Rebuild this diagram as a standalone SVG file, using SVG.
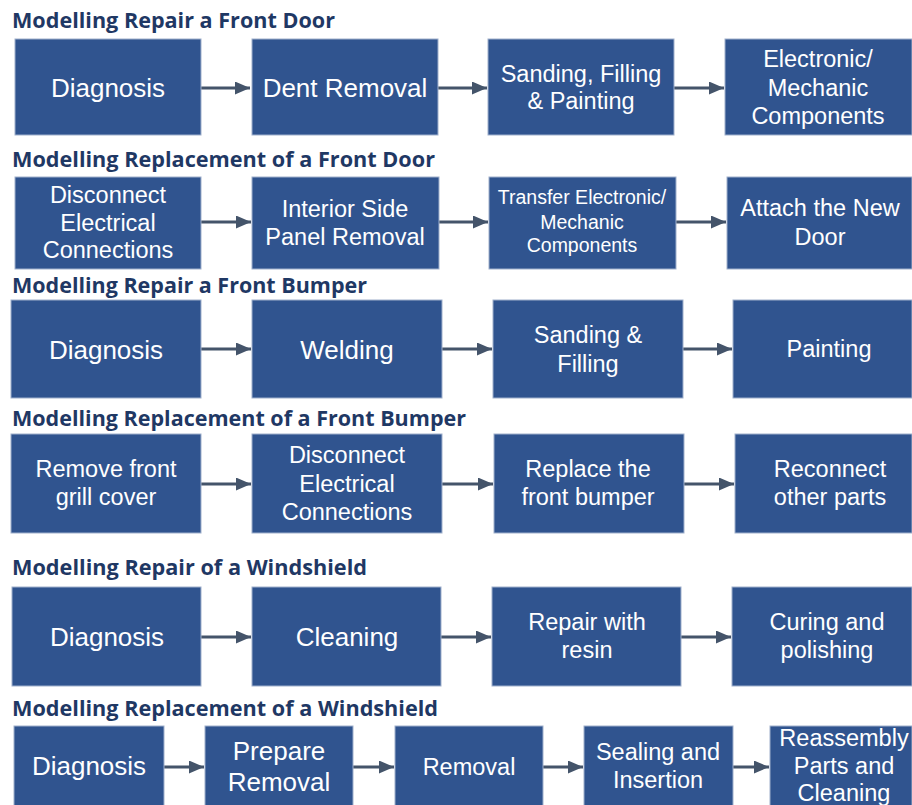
<svg xmlns="http://www.w3.org/2000/svg" width="912" height="805" viewBox="0 0 912 805">
<defs>
<marker id="ah" markerUnits="userSpaceOnUse" markerWidth="15" markerHeight="13" viewBox="0 0 15 13" refX="15" refY="6.5" orient="auto">
<path d="M0,0 L15,6.5 L0,13 z" fill="#44546a"/>
</marker>
<style>
.t{font-family:"Open Sans","Liberation Sans",sans-serif;font-weight:700;font-size:21.5px;fill:#1f3864}
.b{fill:#30548f;stroke:#9fb0cc;stroke-width:1}
.l{font-family:"Liberation Sans",Arial,sans-serif;font-size:26px;fill:#ffffff;text-anchor:middle}
.m{font-size:23.5px}
.s{font-size:19.5px}
.c line{stroke:#44546a;stroke-width:3;marker-end:url(#ah)}
</style>
</defs>
<rect width="912" height="805" fill="#ffffff"/>
<g id="titles">
<text class="t" x="12" y="28" textLength="323" lengthAdjust="spacingAndGlyphs">Modelling Repair a Front Door</text>
<text class="t" x="12" y="167" textLength="423" lengthAdjust="spacingAndGlyphs">Modelling Replacement of a Front Door</text>
<text class="t" x="12" y="293" textLength="355" lengthAdjust="spacingAndGlyphs">Modelling Repair a Front Bumper</text>
<text class="t" x="12" y="426" textLength="454" lengthAdjust="spacingAndGlyphs">Modelling Replacement of a Front Bumper</text>
<text class="t" x="12" y="575" textLength="355" lengthAdjust="spacingAndGlyphs">Modelling Repair of a Windshield</text>
<text class="t" x="12" y="716" textLength="426" lengthAdjust="spacingAndGlyphs">Modelling Replacement of a Windshield</text>
</g>
<g class="c" id="connectors">
<line x1="201" y1="88" x2="250" y2="88"/>
<line x1="438" y1="88" x2="487" y2="88"/>
<line x1="674" y1="88" x2="724" y2="88"/>
<line x1="201" y1="222" x2="251" y2="222"/>
<line x1="439" y1="222" x2="488" y2="222"/>
<line x1="676" y1="222" x2="726" y2="222"/>
<line x1="201" y1="349" x2="251" y2="349"/>
<line x1="442" y1="349" x2="492" y2="349"/>
<line x1="683" y1="349" x2="732" y2="349"/>
<line x1="201" y1="484" x2="251" y2="484"/>
<line x1="442" y1="484" x2="493" y2="484"/>
<line x1="684" y1="484" x2="734" y2="484"/>
<line x1="201" y1="637" x2="251" y2="637"/>
<line x1="441" y1="637" x2="491" y2="637"/>
<line x1="681" y1="637" x2="731" y2="637"/>
<line x1="155" y1="767" x2="204" y2="767"/>
<line x1="353" y1="767" x2="394" y2="767"/>
<line x1="543" y1="767" x2="583" y2="767"/>
<line x1="733" y1="767" x2="769" y2="767"/>
</g>
<!-- Row 1 -->
<g id="r1n1"><rect class="b" x="15" y="39" width="186" height="96"/><text class="l" x="108" y="97">Diagnosis</text></g>
<g id="r1n2"><rect class="b" x="252" y="39" width="186" height="96"/><text class="l" x="345" y="97">Dent Removal</text></g>
<g id="r1n3"><rect class="b" x="488" y="39" width="186" height="96"/><text class="l m" x="581" y="82">Sanding, Filling</text><text class="l m" x="581" y="109">&amp; Painting</text></g>
<g id="r1n4"><rect class="b" x="725" y="39" width="187" height="96"/><text class="l m" x="818" y="67">Electronic/</text><text class="l m" x="818" y="96">Mechanic</text><text class="l m" x="818" y="124">Components</text></g>
<!-- Row 2 -->
<g id="r2n1"><rect class="b" x="15" y="177" width="186" height="92"/><text class="l m" x="108" y="203">Disconnect</text><text class="l m" x="108" y="231">Electrical</text><text class="l m" x="108" y="258">Connections</text></g>
<g id="r2n2"><rect class="b" x="252" y="177" width="187" height="92"/><text class="l m" x="345" y="217">Interior Side</text><text class="l m" x="345" y="245">Panel Removal</text></g>
<g id="r2n3"><rect class="b" x="489" y="177" width="187" height="92"/><text class="l s" x="582" y="204">Transfer Electronic/</text><text class="l s" x="582" y="229">Mechanic</text><text class="l s" x="582" y="252">Components</text></g>
<g id="r2n4"><rect class="b" x="727" y="177" width="185" height="92"/><text class="l m" x="820" y="216">Attach the New</text><text class="l m" x="820" y="245">Door</text></g>
<!-- Row 3 -->
<g id="r3n1"><rect class="b" x="11" y="300" width="190" height="98"/><text class="l" x="106" y="359">Diagnosis</text></g>
<g id="r3n2"><rect class="b" x="252" y="300" width="190" height="98"/><text class="l" x="347" y="359">Welding</text></g>
<g id="r3n3"><rect class="b" x="493" y="300" width="190" height="98"/><text class="l m" x="588" y="343">Sanding &amp;</text><text class="l m" x="588" y="372">Filling</text></g>
<g id="r3n4"><rect class="b" x="733" y="300" width="179" height="98"/><text class="l m" x="829" y="357">Painting</text></g>
<!-- Row 4 -->
<g id="r4n1"><rect class="b" x="11" y="434" width="190" height="99"/><text class="l m" x="106" y="477">Remove front</text><text class="l m" x="106" y="505">grill cover</text></g>
<g id="r4n2"><rect class="b" x="252" y="434" width="190" height="99"/><text class="l m" x="347" y="463">Disconnect</text><text class="l m" x="347" y="492">Electrical</text><text class="l m" x="347" y="520">Connections</text></g>
<g id="r4n3"><rect class="b" x="494" y="434" width="190" height="99"/><text class="l m" x="588" y="477">Replace the</text><text class="l m" x="588" y="505">front bumper</text></g>
<g id="r4n4"><rect class="b" x="735" y="434" width="177" height="99"/><text class="l m" x="830" y="477">Reconnect</text><text class="l m" x="830" y="505">other parts</text></g>
<!-- Row 5 -->
<g id="r5n1"><rect class="b" x="12" y="587" width="189" height="99"/><text class="l" x="107" y="646">Diagnosis</text></g>
<g id="r5n2"><rect class="b" x="252" y="587" width="189" height="99"/><text class="l" x="347" y="646">Cleaning</text></g>
<g id="r5n3"><rect class="b" x="492" y="587" width="189" height="99"/><text class="l m" x="587" y="630">Repair with</text><text class="l m" x="587" y="658">resin</text></g>
<g id="r5n4"><rect class="b" x="732" y="587" width="180" height="99"/><text class="l m" x="827" y="630">Curing and</text><text class="l m" x="827" y="658">polishing</text></g>
<!-- Row 6 -->
<g id="r6n1"><rect class="b" x="14" y="726" width="150" height="85"/><text class="l" x="89" y="775">Diagnosis</text></g>
<g id="r6n2"><rect class="b" x="205" y="726" width="148" height="85"/><text class="l" x="279" y="760">Prepare</text><text class="l" x="279" y="791">Removal</text></g>
<g id="r6n3"><rect class="b" x="395" y="726" width="148" height="85"/><text class="l m" x="469" y="775">Removal</text></g>
<g id="r6n4"><rect class="b" x="584" y="726" width="149" height="85"/><text class="l m" x="658" y="760">Sealing and</text><text class="l m" x="658" y="788">Insertion</text></g>
<g id="r6n5"><rect class="b" x="770" y="726" width="142" height="85"/><text class="l m" x="844" y="746">Reassembly</text><text class="l m" x="844" y="774">Parts and</text><text class="l m" x="844" y="801">Cleaning</text></g>
</svg>
